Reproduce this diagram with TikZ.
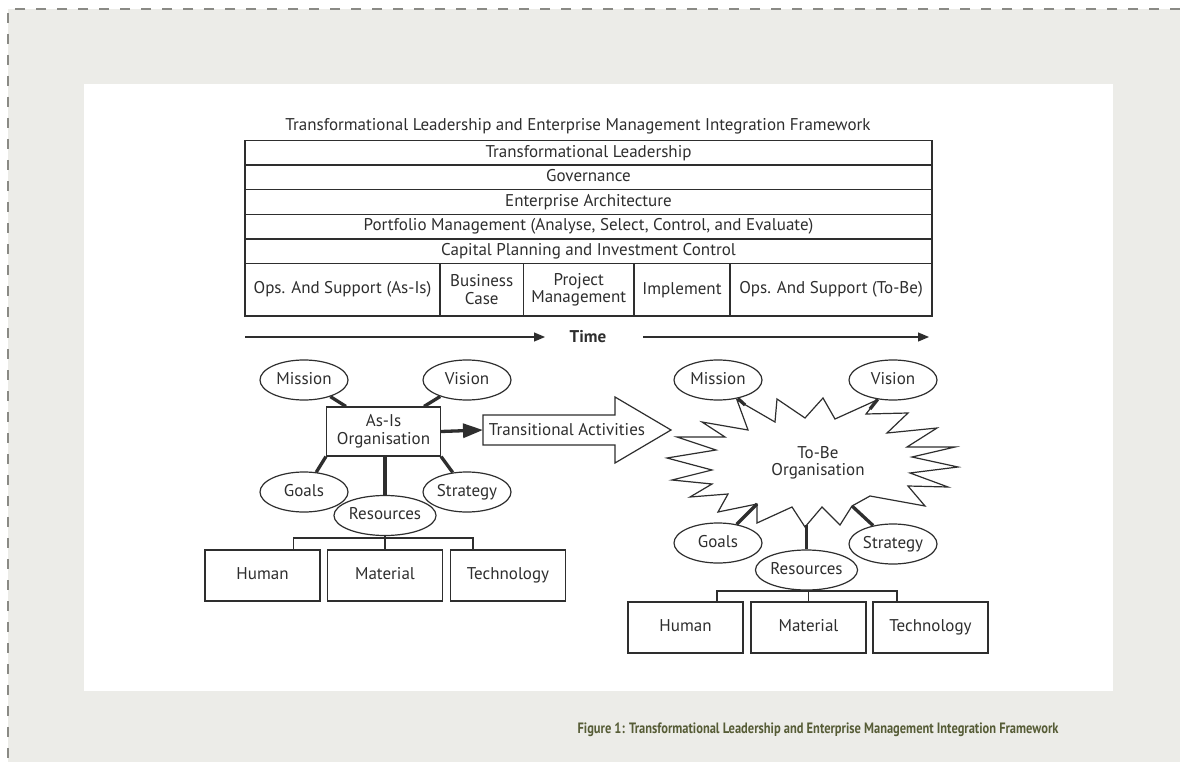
\documentclass[tikz,border=0pt]{standalone}
\usepackage{fontspec}
\setmainfont{PT Sans}
\newfontfamily\captionface[FakeStretch=0.83]{PT Sans}
\usetikzlibrary{arrows.meta, shapes.geometric}
\definecolor{panelgray}{HTML}{ECECE8}
\definecolor{dashgray}{HTML}{8A8A85}
\definecolor{inkgray}{HTML}{2E2E2E}
\definecolor{captionolive}{HTML}{565C36}
\tikzset{
	bodyfont/.style={font=\fontsize{17}{17.5}\selectfont, text=inkgray},
	bandrow/.style={bodyfont, draw=inkgray, line width=1.2pt, minimum width=687pt, minimum height=24.6pt, inner sep=0pt, text height=12pt, text depth=3.5pt},
	phasecell/.style={bodyfont, draw=inkgray, line width=1.2pt, minimum height=52.5pt, inner sep=0pt, align=center},
	idea/.style={bodyfont, ellipse, draw=inkgray, line width=1.2pt, fill=white, minimum width=88pt, minimum height=40pt, inner sep=0pt, text height=12pt, text depth=3.5pt},
	orgbox/.style={bodyfont, draw=inkgray, line width=1.2pt, fill=white, minimum width=114pt, minimum height=49pt, inner sep=0pt, align=center},
	resbox/.style={bodyfont, draw=inkgray, line width=1.2pt, minimum width=115pt, minimum height=51pt, inner sep=0pt, text height=12pt, text depth=3.5pt},
	link/.style={draw=inkgray, line width=3.3pt},
	treeline/.style={draw=inkgray, line width=1.2pt},
	timeline/.style={draw=inkgray, line width=1.2pt, -{Triangle[length=11pt, width=9pt]}}
}

\begin{document}
\begin{tikzpicture}[x=1pt, y=-1pt]
	\useasboundingbox (0,0) rectangle (1180,762);
	\fill[panelgray] (8,9) rectangle (1180,762);
	\fill[white] (84,84) rectangle (1113,691);
	\draw[dashgray, line width=1.5pt, dash pattern=on 10pt off 11pt] (1180,9) -- (8,9) -- (8,762);

	\node[bodyfont] (title) at (578,126) {Transformational Leadership and Enterprise Management Integration Framework};
	\node[bandrow] (lead) at (588.5,152.8) {Transformational Leadership};
	\node[bandrow] (gov) at (588.5,177.4) {Governance};
	\node[bandrow] (arch) at (588.5,202) {Enterprise Architecture};
	\node[bandrow] (port) at (588.5,226.6) {Portfolio Management (Analyse, Select, Control, and Evaluate)};
	\node[bandrow] (cpic) at (588.5,251.2) {Capital Planning and Investment Control};
	\node[phasecell, minimum width=195pt] (opsasis) at (342.5,289.75) {Ops. And Support (As-Is)};
	\node[phasecell, minimum width=83.5pt] (bcase) at (481.75,289.75) {Business\\Case};
	\node[phasecell, minimum width=110.5pt] (pm) at (578.75,289.75) {Project\\Management};
	\node[phasecell, minimum width=96pt] (impl) at (682,289.75) {Implement};
	\node[phasecell, minimum width=202pt] (opstobe) at (831,289.75) {Ops. And Support (To-Be)};

	\node[bodyfont, font=\fontsize{17}{17.5}\selectfont\bfseries] (time) at (588,337) {Time};
	\coordinate (t0) at (245,337);
	\coordinate (t1) at (545,337);
	\coordinate (t2) at (643,337);
	\coordinate (t3) at (929,337);
	\draw[timeline] (t0) -- (t1);
	\draw[timeline] (t2) -- (t3);

	% as-is side
	\node[orgbox] (asis) at (383.5,431.5) {As-Is\\Organisation};
	\node[idea] (mis1) at (304,380) {Mission};
	\node[idea] (vis1) at (467,380) {Vision};
	\node[idea] (goa1) at (304,492) {Goals};
	\node[idea] (str1) at (467,492) {Strategy};
	\node[idea] (res1) at (385,515.5) {Resources};
	\draw[link] (mis1) -- ([xshift=20pt]asis.north west);
	\draw[link] (vis1) -- ([xshift=-17pt]asis.north east);
	\draw[link] (goa1) -- (asis.south west);
	\draw[link] (str1) -- (asis.south east);
	\draw[link] (res1.north) -- (res1.north |- asis.south);
	\node[resbox] (hum1) at (262.5,575.5) {Human};
	\node[resbox] (mat1) at (385,575.5) {Material};
	\node[resbox] (tec1) at (508,575.5) {Technology};
	\coordinate (bar1) at (385,538);
	\draw[treeline] (res1.south) -- (bar1);
	\draw[treeline] ([xshift=31pt]hum1.north) |- (bar1) -| ([xshift=-35pt]tec1.north);
	\draw[treeline] (bar1) -- (mat1.north);

	% transition
	\draw[draw=inkgray, line width=1.2pt, fill=white] (483,415) -- (615,415) -- (615,397) -- (671,430) -- (615,463) -- (615,445) -- (483,445) -- cycle;
	\node[bodyfont] (trans) at (567,430) {Transitional Activities};
	\coordinate (tailin) at (483,430);
	\draw[link, -{Triangle[length=20pt, width=14pt]}] (asis.east) -- (tailin);

	% to-be side
	\draw[draw=inkgray, line width=1.2pt, fill=white] (702,422) -- (748,430) -- (737,400) -- (775,422) -- (777,399) -- (805,418) -- (823,398) -- (835,419) -- (877,400) -- (866,414) -- (908,413) -- (887,433) -- (937,428) -- (907,447) -- (955,447) -- (912,457) -- (958,467) -- (910,473) -- (948,487) -- (908,486) -- (925,506) -- (870,496) -- (852,506) -- (840,525) -- (822,507) -- (805,527) -- (792,507) -- (757,523) -- (757,504) -- (718,512) -- (728,494) -- (690,497) -- (712,484) -- (672,480) -- (712,470) -- (667,458) -- (716,450) -- (677,437) -- (725,437) -- cycle;
	\node[bodyfont, align=center] (tobe) at (818,463) {To-Be\\Organisation};
	\coordinate (sbmis) at (745,405);
	\coordinate (sbvis) at (870,409);
	\coordinate (sbgoa) at (757,504);
	\coordinate (sbstr) at (852,506);
	\coordinate (sbres) at (806.5,525);
	\node[idea] (mis2) at (718,380) {Mission};
	\node[idea] (vis2) at (893,380) {Vision};
	\node[idea] (goa2) at (718,543) {Goals};
	\node[idea] (str2) at (893,544) {Strategy};
	\node[idea] (res2) at (806.5,570) {Resources};
	\draw[link] (mis2) -- (sbmis);
	\draw[link] (vis2) -- (sbvis);
	\draw[link] (goa2) -- (sbgoa);
	\draw[link] (str2) -- (sbstr);
	\draw[link] (res2.north) -- (sbres);
	\node[resbox] (hum2) at (685.5,627.5) {Human};
	\node[resbox] (mat2) at (808.5,627.5) {Material};
	\node[resbox] (tec2) at (930.5,627.5) {Technology};
	\coordinate (bar2) at (808.5,591);
	\draw[treeline] (res2.south) -- (bar2);
	\draw[treeline] ([xshift=31.5pt]hum2.north) |- (bar2) -| ([xshift=-33.5pt]tec2.north);
	\draw[treeline] (bar2) -- (mat2.north);

	\node[anchor=east, text=captionolive, font=\captionface\fontsize{15}{16}\selectfont\bfseries] (caption) at (1062,730) {Figure 1: Transformational Leadership and Enterprise Management Integration Framework};
\end{tikzpicture}
\end{document}
